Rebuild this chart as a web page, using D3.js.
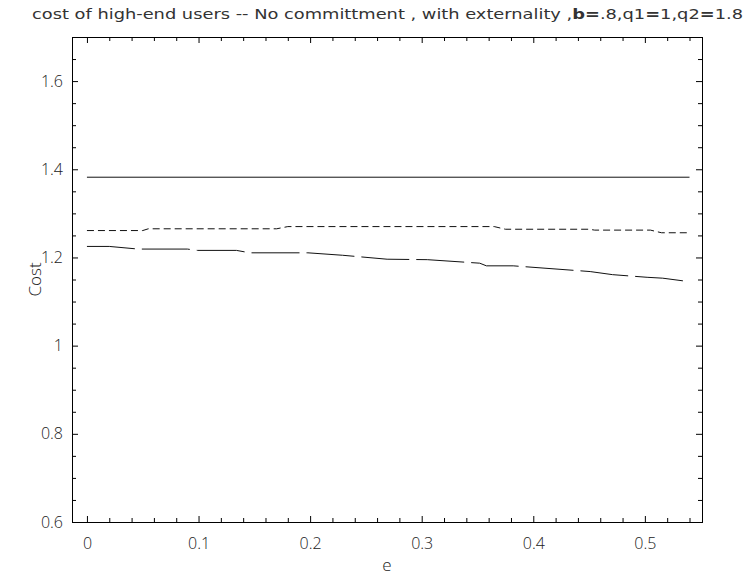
<!DOCTYPE html>
<html><head><meta charset="utf-8">
<script src="https://cdn.jsdelivr.net/npm/d3@7"></script>
<style>body{margin:0;background:#fff}</style>
</head><body>
<svg id="c" width="748" height="577"></svg>
<script>
// ---- data ----
const solidE = [0, 0.54];
const solidCost = [1.382, 1.382];

const shortE = [0, 0.05, 0.055, 0.17, 0.18, 0.365, 0.375, 0.45, 0.455, 0.505, 0.515, 0.54];
const shortCost = [1.261, 1.261, 1.265, 1.265, 1.270, 1.270, 1.264, 1.264, 1.262, 1.262, 1.256, 1.256];

const longE = [0, 0.02, 0.046, 0.09, 0.099, 0.134, 0.146, 0.198, 0.229, 0.269, 0.305, 0.352, 0.358, 0.382, 0.451, 0.471, 0.502, 0.516, 0.54];
const longCost = [1.225, 1.225, 1.219, 1.219, 1.216, 1.216, 1.2105, 1.2105, 1.205, 1.196, 1.195, 1.187, 1.181, 1.181, 1.168, 1.161, 1.155, 1.153, 1.145];

const xMajor = [0, 0.1, 0.2, 0.3, 0.4, 0.5];
const xMinor = d3.range(0, 28).map(i => +(i * 0.02).toFixed(2)).filter(v => !xMajor.includes(v));
const yMajor = [0.6, 0.8, 1.0, 1.2, 1.4, 1.6];
const yMinor = d3.range(0, 23).map(i => +(0.6 + i * 0.05).toFixed(2)).filter(v => !yMajor.some(m => Math.abs(m - v) < 1e-9) && v < 1.7);
const xLabels = ["0", "0.1", "0.2", "0.3", "0.4", "0.5"];
const yLabels = ["0.6", "0.8", "1", "1.2", "1.4", "1.6"];

// ---- layout ----
const svg = d3.select("#c");
const L = 72, R = 702, T = 37, B = 522;
const x = d3.scaleLinear().domain([-0.0134, 0.5512]).range([L, R]);
const y = d3.scaleLinear().domain([0.6, 1.7]).range([B, T]);
const tickFont = "'Open Sans', 'DejaVu Sans', sans-serif";

function styleAxis(g) {
  g.select(".domain").remove();
  g.selectAll("line").attr("stroke", "#000").attr("stroke-width", 1);
  g.selectAll("text").attr("font-family", tickFont).attr("font-size", 16).attr("fill", "#222").attr("font-weight", 300);
}

// bottom
svg.append("g").attr("transform", `translate(0,${B})`)
  .call(d3.axisBottom(x).tickValues(xMajor).tickSize(-6).tickPadding(16).tickFormat((d, i) => xLabels[i]))
  .call(styleAxis);
svg.append("g").attr("transform", `translate(0,${B})`)
  .call(d3.axisBottom(x).tickValues(xMinor).tickSize(-4).tickFormat(""))
  .call(styleAxis);
// top
svg.append("g").attr("transform", `translate(0,${T})`)
  .call(d3.axisTop(x).tickValues(xMajor).tickSize(-6).tickFormat(""))
  .call(styleAxis);
svg.append("g").attr("transform", `translate(0,${T})`)
  .call(d3.axisTop(x).tickValues(xMinor).tickSize(-4).tickFormat(""))
  .call(styleAxis);
// left
svg.append("g").attr("transform", `translate(${L},0)`)
  .call(d3.axisLeft(y).tickValues(yMajor).tickSize(-6).tickPadding(9).tickFormat((d, i) => yLabels[i]))
  .call(styleAxis);
svg.append("g").attr("transform", `translate(${L},0)`)
  .call(d3.axisLeft(y).tickValues(yMinor).tickSize(-4).tickFormat(""))
  .call(styleAxis);
// right
svg.append("g").attr("transform", `translate(${R},0)`)
  .call(d3.axisRight(y).tickValues(yMajor).tickSize(-6).tickFormat(""))
  .call(styleAxis);
svg.append("g").attr("transform", `translate(${R},0)`)
  .call(d3.axisRight(y).tickValues(yMinor).tickSize(-4).tickFormat(""))
  .call(styleAxis);

// frame
svg.append("rect").attr("x", L + 0.5).attr("y", T + 0.5).attr("width", R - L).attr("height", B - T)
  .attr("fill", "none").attr("stroke", "#000").attr("stroke-width", 1);

// lines
const line = d3.line().x(d => x(d[0])).y(d => y(d[1]));
function series(es, cs, dash) {
  svg.append("path").datum(es.map((e, i) => [e, cs[i]]))
    .attr("d", line).attr("fill", "none").attr("stroke", "#111").attr("stroke-width", 1)
    .attr("stroke-dasharray", dash);
}
series(solidE, solidCost, null);
series(shortE, shortCost, "7,4");
series(longE, longCost, "48,7");

// labels
svg.append("text").attr("x", (L + R) / 2).attr("y", 571).attr("text-anchor", "middle")
  .attr("font-family", tickFont).attr("font-size", 17).attr("font-weight", 300).attr("fill", "#222").text("e");
svg.append("text").attr("transform", `translate(41,${(T + B) / 2}) rotate(-90)`).attr("text-anchor", "middle")
  .attr("font-family", tickFont).attr("font-size", 17).attr("font-weight", 300).attr("fill", "#222").text("Cost");

// title
const title = svg.append("text").attr("x", 32).attr("y", 19)
  .attr("font-family", "'DejaVu Sans Condensed', 'DejaVu Sans', sans-serif").attr("font-size", 14)
  .attr("fill", "#333").attr("textLength", 711).attr("lengthAdjust", "spacingAndGlyphs");
title.append("tspan").text("cost of high-end users -- No committment , with externality ,");
title.append("tspan").attr("font-weight", "bold").text("b=");
title.append("tspan").text(".8,q1");
title.append("tspan").attr("font-weight", "bold").text("=");
title.append("tspan").text("1,q2");
title.append("tspan").attr("font-weight", "bold").text("=");
title.append("tspan").text("1.8");
</script>
</body></html>
